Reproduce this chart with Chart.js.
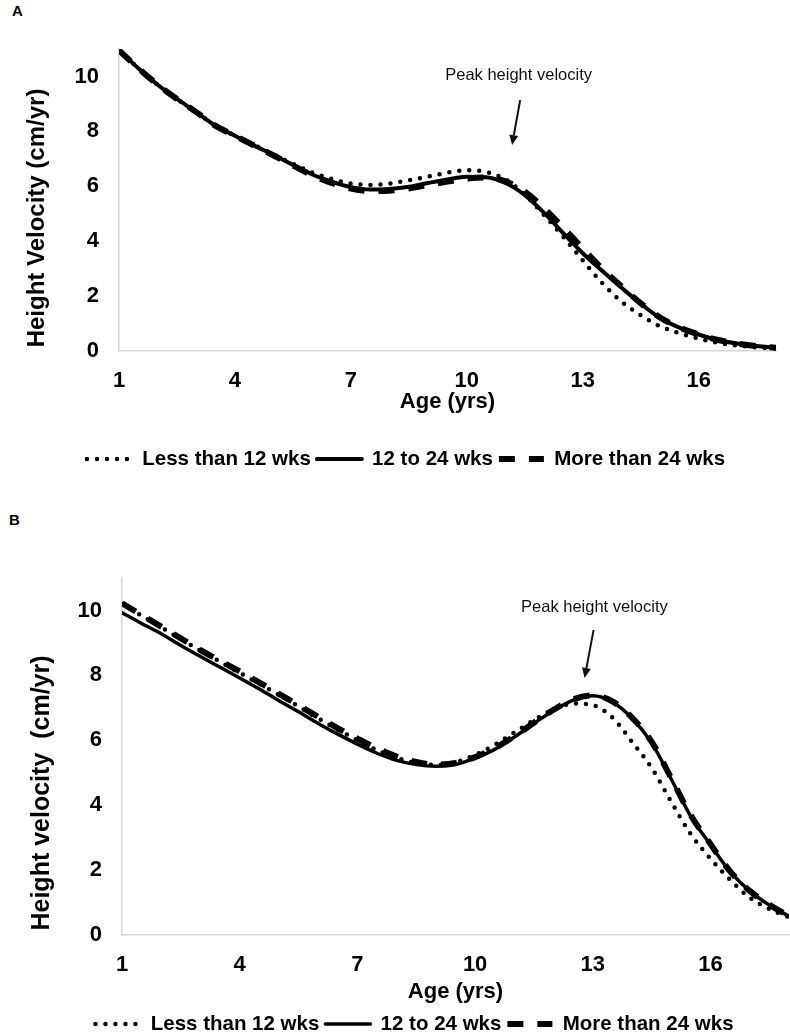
<!DOCTYPE html>
<html>
<head>
<meta charset="utf-8">
<script src="https://cdn.jsdelivr.net/npm/chart.js@4.4.1/dist/chart.umd.min.js"></script>
<style>
  html, body { margin: 0; padding: 0; background: #fff; overflow: hidden; }
  #wrap { position: relative; width: 790px; height: 1034px; overflow: hidden; }
  canvas { position: absolute; left: 0; }
  #chartA { top: 0; }
  #chartB { top: 505px; }
  .panel { position: absolute; font: bold 15px "Liberation Sans", Arial, sans-serif; color: #000; }
</style>
</head>
<body>
<div id="wrap">
  <div class="panel" style="left:12px;top:2px">A</div>
  <canvas id="chartA" width="790" height="505"></canvas>
  <div class="panel" style="left:9px;top:511px">B</div>
  <canvas id="chartB" width="790" height="540"></canvas>
</div>
<script>
// ======================
// DATA
// ======================
const ages = [1, 1.5, 2, 2.5, 3, 3.5, 4, 4.5, 5, 5.5, 6, 6.5, 7, 7.5, 8, 8.5, 9, 9.5,
  10, 10.5, 11, 11.5, 12, 12.5, 13, 13.5, 14, 14.5, 15, 15.5, 16, 16.5, 17, 17.5, 18];
const xTicks = [1, 4, 7, 10, 13, 16];
const yTicks = [0, 2, 4, 6, 8, 10];
const seriesLabels = ["Less than 12 wks", "12 to 24 wks", "More than 24 wks"];

// panel A
const aLess = [10.95, 10.3, 9.7, 9.18, 8.7, 8.2, 7.84, 7.5, 7.16, 6.82, 6.5, 6.27, 6.1, 6.05, 6.1, 6.22, 6.35, 6.5,
  6.58, 6.52, 6.25, 5.7, 4.95, 4.15, 3.3, 2.48, 1.8, 1.3, 0.9, 0.65, 0.45, 0.3, 0.2, 0.13, 0.09];
const aMid = [10.95, 10.3, 9.7, 9.18, 8.7, 8.2, 7.84, 7.48, 7.14, 6.78, 6.43, 6.17, 5.97, 5.88, 5.9, 5.98, 6.12, 6.25,
  6.35, 6.33, 6.12, 5.68, 5.03, 4.28, 3.56, 2.92, 2.31, 1.72, 1.2, 0.85, 0.6, 0.4, 0.27, 0.18, 0.12];
const aMore = [10.95, 10.3, 9.7, 9.18, 8.7, 8.2, 7.84, 7.48, 7.12, 6.76, 6.4, 6.12, 5.92, 5.83, 5.84, 5.92, 6.05, 6.17,
  6.28, 6.32, 6.18, 5.8, 5.2, 4.48, 3.74, 3.0, 2.36, 1.74, 1.22, 0.86, 0.6, 0.4, 0.27, 0.18, 0.12];

// panel B
const bLess = [10.2, 9.84, 9.48, 9.12, 8.76, 8.42, 8.08, 7.74, 7.4, 7.04, 6.68, 6.33, 6.0, 5.7, 5.46, 5.3, 5.24, 5.33,
  5.55, 5.86, 6.24, 6.62, 6.95, 7.13, 7.08, 6.7, 5.95, 5.15, 4.1, 3.1, 2.35, 1.7, 1.15, 0.8, 0.55];
const bMid = [9.93, 9.6, 9.28, 8.92, 8.58, 8.25, 7.92, 7.58, 7.22, 6.88, 6.52, 6.19, 5.88, 5.6, 5.38, 5.25, 5.2, 5.25,
  5.45, 5.72, 6.1, 6.52, 6.92, 7.24, 7.37, 7.18, 6.68, 5.92, 4.8, 3.65, 2.78, 1.95, 1.35, 0.92, 0.58];
const bMore = [10.22, 9.86, 9.5, 9.14, 8.78, 8.45, 8.12, 7.78, 7.43, 7.08, 6.72, 6.37, 6.05, 5.75, 5.5, 5.33, 5.25, 5.3,
  5.48, 5.76, 6.12, 6.54, 6.94, 7.26, 7.38, 7.2, 6.7, 5.95, 4.83, 3.68, 2.8, 1.96, 1.36, 0.93, 0.58];

// annotation anchors in data units: [age, cm/yr]
const peakA = { label: [11.34, 10.05], from: [11.38, 9.14], to: [11.17, 7.5] };
const peakB = { label: [13.04, 10.08], from: [13.02, 9.4], to: [12.79, 7.92] };

// ======================
// PLUGINS
// ======================
const FONT = '"Liberation Sans", Arial, sans-serif';

const yTitlePlugin = {
  id: 'yTitle',
  afterDraw(chart, args, o) {
    const ctx = chart.ctx;
    ctx.save();
    ctx.translate(o.x, o.y);
    ctx.rotate(-Math.PI / 2);
    ctx.font = o.font;
    ctx.fillStyle = '#000';
    ctx.textAlign = 'center';
    ctx.textBaseline = 'middle';
    ctx.fillText(o.text, 0, 0);
    ctx.restore();
  }
};

// nudge the legend sideways (it is centred on the whole canvas by default)
const legendShift = {
  id: 'legendShift',
  afterLayout(chart, args, o) {
    if (!chart.legend) return;
    chart.legend.left += o.dx;
    chart.legend.right += o.dx;
  }
};

const peakPlugin = {
  id: 'peak',
  afterDatasetsDraw(chart, args, o) {
    const { x, y } = chart.scales;
    const ctx = chart.ctx;
    const px = p => [x.getPixelForValue(p[0]), y.getPixelForValue(p[1])];
    const [lx, ly] = px(o.anchor.label);
    const [fx, fy] = px(o.anchor.from);
    const [tx, ty] = px(o.anchor.to);
    ctx.save();
    ctx.font = '16.5px ' + FONT;
    ctx.fillStyle = '#111';
    ctx.textAlign = 'center';
    ctx.textBaseline = 'middle';
    ctx.fillText('Peak height velocity', lx, ly);

    const ang = Math.atan2(ty - fy, tx - fx);
    const head = 10, half = 4.5;
    const bx = tx - Math.cos(ang) * head, by = ty - Math.sin(ang) * head;
    ctx.strokeStyle = '#111';
    ctx.lineWidth = 2;
    ctx.beginPath();
    ctx.moveTo(fx, fy);
    ctx.lineTo(bx, by);
    ctx.stroke();
    ctx.beginPath();
    ctx.moveTo(tx, ty);
    ctx.lineTo(bx + Math.sin(ang) * half, by - Math.cos(ang) * half);
    ctx.lineTo(bx - Math.sin(ang) * half, by + Math.cos(ang) * half);
    ctx.closePath();
    ctx.fill();
    ctx.restore();
  }
};

// ======================
// BUILD A PANEL
// ======================
function buildChart(id, series, lay) {
  const styles = [
    { borderWidth: 4.5, borderDash: [0, 10], borderCapStyle: 'round' },
    { borderWidth: lay.solidW, borderDash: [], borderCapStyle: 'round' },
    { borderWidth: 6, borderDash: [16, 14], borderCapStyle: 'butt' }
  ];
  const datasets = series.map((vals, i) => ({
    label: seriesLabels[i],
    data: ages.map((a, j) => ({ x: a, y: vals[j] })),
    borderColor: '#000',
    backgroundColor: '#000',
    ...styles[i]
  }));

  return new Chart(document.getElementById(id), {
    type: 'line',
    data: { datasets },
    plugins: [yTitlePlugin, peakPlugin, legendShift],
    options: {
      responsive: false,
      animation: false,
      layout: { padding: { top: lay.top, right: lay.right, bottom: lay.bottom, left: 0 } },
      elements: {
        point: { radius: 0 },
        line: { cubicInterpolationMode: 'monotone', borderJoinStyle: 'round' }
      },
      scales: {
        x: {
          type: 'linear', min: 1, max: 18,
          afterBuildTicks: s => { s.ticks = xTicks.map(v => ({ value: v })); },
          afterFit: s => { s.height = lay.xH; },
          grid: { display: false, drawTicks: false },
          border: { color: '#d6d6d6', width: 1.5 },
          ticks: { padding: 17, color: '#000', font: { family: FONT, size: 22, weight: 'bold' } },
          title: {
            display: true, text: 'Age (yrs)', color: '#000',
            font: { family: FONT, size: 22, weight: 'bold' },
            padding: { top: 0, bottom: lay.xTitlePad }
          }
        },
        y: {
          min: 0, max: 11,
          afterBuildTicks: s => { s.ticks = yTicks.map(v => ({ value: v })); },
          afterFit: s => { s.width = lay.yW; },
          grid: { display: false, drawTicks: false },
          border: { color: '#d6d6d6', width: 1.5 },
          ticks: { padding: 20, color: '#000', font: { family: FONT, size: 22, weight: 'bold' } }
        }
      },
      plugins: {
        legend: {
          position: 'bottom',
          labels: {
            usePointStyle: true,
            pointStyleWidth: 45,
            padding: 6,
            color: '#000',
            font: { family: FONT, size: 20.5, weight: 'bold' },
            generateLabels: chart => chart.data.datasets.map((ds, i) => ({
              text: ds.label,
              fillStyle: 'transparent',
              strokeStyle: ds.borderColor,
              lineWidth: ds.borderWidth,
              lineDash: ds.borderDash,
              lineCap: ds.borderCapStyle,
              pointStyle: 'line',
              fontColor: '#000',
              hidden: false,
              datasetIndex: i
            }))
          }
        },
        legendShift: { dx: lay.legendDx },
        tooltip: { enabled: false },
        yTitle: { text: lay.yTitle, x: lay.yTitleX, y: lay.yTitleY, font: 'bold ' + lay.yTitleSize + 'px ' + FONT },
        peak: { anchor: lay.peak }
      }
    }
  });
}

buildChart('chartA', [aLess, aMid, aMore], {
  top: 49, right: 14, bottom: 25.75, xH: 91.75, yW: 119, xTitlePad: 28, solidW: 4, legendDx: 18,
  yTitle: 'Height Velocity (cm/yr)', yTitleX: 37, yTitleY: 218, yTitleSize: 24, peak: peakA
});

buildChart('chartB', [bLess, bMid, bMore], {
  top: 73, right: 1, bottom: 0.75, xH: 72.75, yW: 122, xTitlePad: 2.5, solidW: 3.5, legendDx: 20,
  yTitle: 'Height velocity  (cm/yr)', yTitleX: 42, yTitleY: 288, yTitleSize: 25, peak: peakB
});
</script>
</body>
</html>
